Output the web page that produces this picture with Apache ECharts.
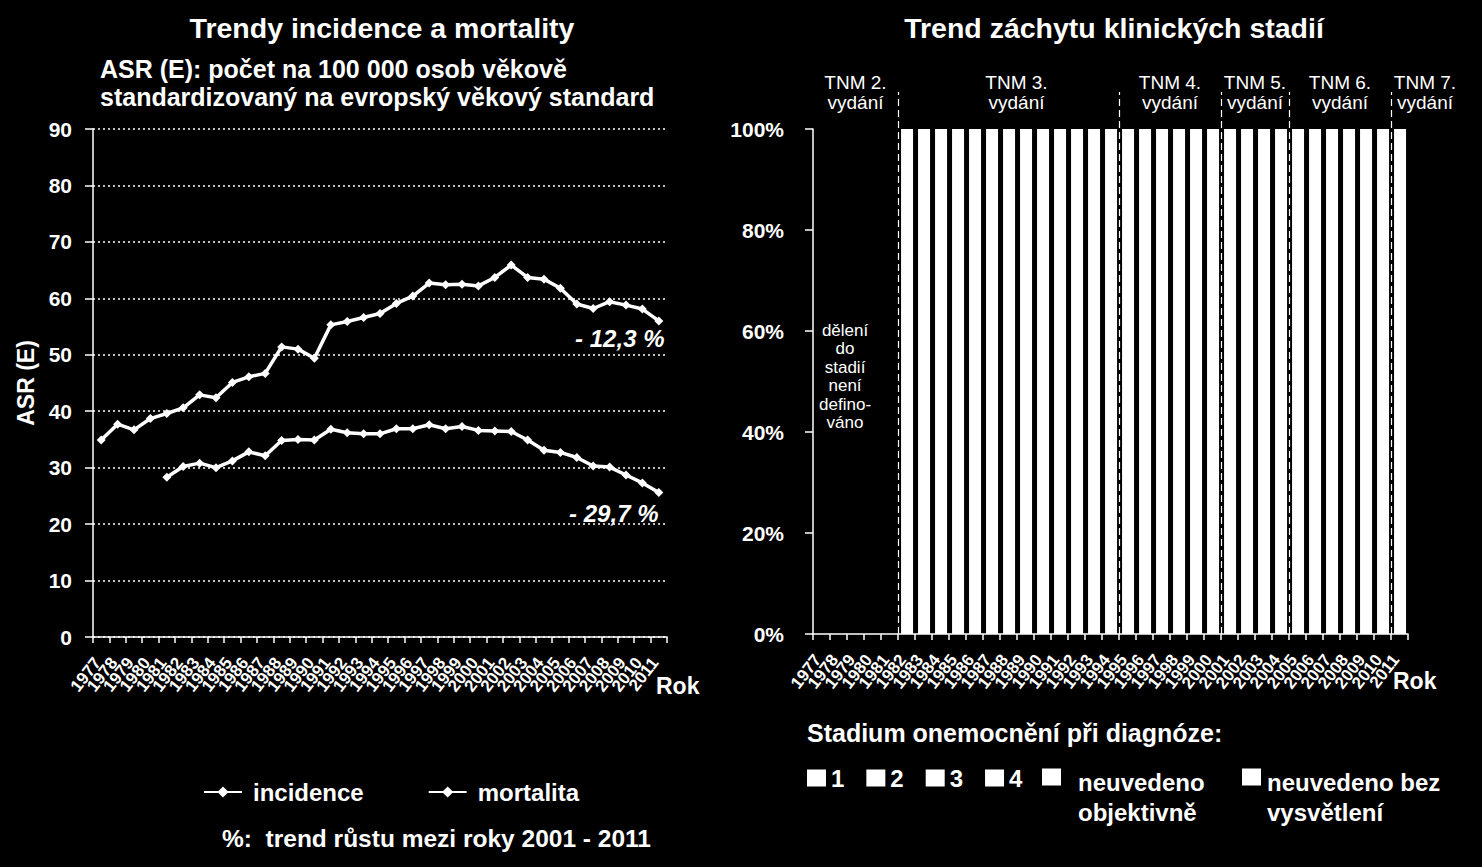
<!DOCTYPE html>
<html>
<head>
<meta charset="utf-8">
<script src="https://cdn.jsdelivr.net/npm/echarts@6/dist/echarts.min.js"></script>
<style>html,body{margin:0;padding:0;background:#000}#c{width:1482px;height:867px}</style>
</head>
<body>
<div id="c"></div>
<script>
// ---- data ----
const years = ['1977','1978','1979','1980','1981','1982','1983','1984','1985','1986','1987','1988','1989','1990','1991','1992','1993','1994','1995','1996','1997','1998','1999','2000','2001','2002','2003','2004','2005','2006','2007','2008','2009','2010','2011'];
const incidence = [34.9,37.7,36.7,38.7,39.6,40.6,42.9,42.4,45.1,46.1,46.7,51.4,51.0,49.4,55.3,55.9,56.6,57.3,59.1,60.4,62.7,62.4,62.5,62.2,63.7,65.9,63.7,63.4,61.8,59.0,58.2,59.4,58.8,58.1,56.0];
const mortality = [null,null,null,null,28.3,30.2,30.8,30.0,31.2,32.8,32.1,34.8,35.0,34.9,36.8,36.2,36.0,36.0,36.9,36.9,37.6,36.9,37.3,36.6,36.5,36.4,34.9,33.1,32.7,31.8,30.3,30.1,28.7,27.3,25.6];
const trendLabels = ['- 12,3 %', '- 29,7 %'];
const asrTicks = [0, 90, 10];          // min, max, step
const shareTicks = [0, 100, 20];       // min, max, step (%)
// share of cases with a recorded stage (all stage segments are white in the picture)
const shareRecorded = [null,null,null,null,null,100,100,100,100,100,100,100,100,100,100,100,100,100,100,100,100,100,100,100,100,100,100,100,100,100,100,100,100,100,100];
const stageNames = ['1','2','3','4','neuvedeno objektivně','neuvedeno bez vysvětlení'];
const tnmEditions = ['TNM 2.','TNM 3.','TNM 4.','TNM 5.','TNM 6.','TNM 7.'];
const tnmFirstYear = ['1977','1982','1995','2001','2005','2011'];
const undefinedNote = 'dělení\ndo\nstadií\nnení\ndefino-\nváno';

// ---- chart ----
const FONT = '"Liberation Sans", Arial, sans-serif';
const W = '#ffffff';
const chart = echarts.init(document.getElementById('c'), null, {renderer: 'svg'});

const tnmStarts = tnmFirstYear.map(y => years.indexOf(y));
const tnmAreas = tnmEditions.map((ed, i) => {
  const s = tnmStarts[i];
  const e = i < tnmStarts.length - 1 ? tnmStarts[i + 1] : s + 4;
  const item = {xAxis: s, name: ed + '\nvydání'};
  if (i === 1) item.label = {offset: [8, -20]};
  return [item, {xAxis: e}];
});
const tnmLines = tnmStarts.slice(1).map(s => ({xAxis: s}));

const stageSeries = stageNames.map(n => ({
  name: n, type: 'bar', xAxisIndex: 1, yAxisIndex: 1, stack: 'stadia',
  data: [], itemStyle: {color: W}
}));

const catAxis = (gi) => ({
  type: 'category', gridIndex: gi, data: years, boundaryGap: true,
  axisLine: {lineStyle: {color: W, width: 1.5}},
  axisTick: {show: true, interval: 0, length: 6, lineStyle: {color: W, width: 1.5}},
  axisLabel: {interval: 0, rotate: 52, color: W, fontSize: 17, fontWeight: 'bold', fontFamily: FONT, margin: 18, padding: [0, 6, 0, 0]},
  splitLine: {show: false}
});

const twoLine = (a, b) => '{s| }\n{t|' + a + '}\n{t|' + b + '}';
const richTwo = {
  s: {lineHeight: 40, fontSize: 10, color: W},
  t: {lineHeight: 30, fontSize: 24, fontWeight: 'bold', color: W, fontFamily: FONT}
};

const option = {
  backgroundColor: '#000',
  animation: false,
  textStyle: {fontFamily: FONT},
  grid: [
    {left: 93, right: 815, top: 129, bottom: 230},
    {left: 813, right: 74, top: 129, bottom: 233},
    {left: 813, right: 23, top: 92, bottom: 233}
  ],
  xAxis: [
    catAxis(0),
    catAxis(1),
    {type: 'value', gridIndex: 2, min: 0, max: 38, show: false}
  ],
  yAxis: [
    {
      type: 'value', gridIndex: 0, min: asrTicks[0], max: asrTicks[1], interval: asrTicks[2],
      name: 'ASR (E)', nameLocation: 'middle', nameGap: 56,
      nameTextStyle: {color: W, fontSize: 23, fontWeight: 'bold', fontFamily: FONT},
      axisLine: {show: true, lineStyle: {color: W, width: 1.5}},
      axisTick: {show: true, length: 8, lineStyle: {color: W, width: 1.5}},
      axisLabel: {color: W, fontSize: 21, fontWeight: 'bold', fontFamily: FONT, margin: 21},
      splitLine: {show: true, lineStyle: {color: W, width: 1.5, type: [2, 3]}}
    },
    {
      type: 'value', gridIndex: 1, min: shareTicks[0], max: shareTicks[1], interval: shareTicks[2],
      axisLine: {show: true, lineStyle: {color: W, width: 1.5}},
      axisTick: {show: true, length: 8, lineStyle: {color: W, width: 1.5}},
      axisLabel: {color: W, fontSize: 21, fontWeight: 'bold', fontFamily: FONT, margin: 29, formatter: '{value}%'},
      splitLine: {show: false}
    },
    {type: 'value', gridIndex: 2, min: 0, max: 1, show: false}
  ],
  legend: [
    {
      data: ['incidence', 'mortalita'], left: 203, top: 780, padding: 0,
      itemWidth: 38, itemHeight: 14, itemGap: 64, selectedMode: false,
      textStyle: {color: W, fontSize: 24, fontWeight: 'bold', fontFamily: FONT, padding: [0, 0, 0, 6]}
    },
    {
      data: stageNames.slice(0, 4), left: 807, top: 766, padding: 0, icon: 'rect',
      itemWidth: 19, itemHeight: 17, itemGap: 22, selectedMode: false,
      textStyle: {color: W, fontSize: 24, fontWeight: 'bold', fontFamily: FONT}
    },
    {
      data: [stageNames[4]], left: 1042, top: 742, padding: 0, icon: 'rect',
      itemWidth: 19, itemHeight: 17, selectedMode: false,
      formatter: () => twoLine('neuvedeno', 'objektivně'),
      textStyle: {color: W, fontSize: 24, fontWeight: 'bold', fontFamily: FONT, padding: [0, 0, 0, 12], rich: richTwo}
    },
    {
      data: [stageNames[5]], left: 1242, top: 742, padding: 0, icon: 'rect',
      itemWidth: 19, itemHeight: 17, selectedMode: false,
      formatter: () => twoLine('neuvedeno bez', 'vysvětlení'),
      textStyle: {color: W, fontSize: 24, fontWeight: 'bold', fontFamily: FONT, padding: [0, 0, 0, 1], rich: richTwo}
    }
  ],
  graphic: [
    {type: 'text', x: 382, y: 28, style: {text: 'Trendy incidence a mortality', fill: W, font: 'bold 28.5px ' + FONT, textAlign: 'center', textVerticalAlign: 'middle'}},
    {type: 'text', x: 100, y: 69, style: {text: 'ASR (E): počet na 100 000 osob věkově', fill: W, font: 'bold 25px ' + FONT, textAlign: 'left', textVerticalAlign: 'middle'}},
    {type: 'text', x: 100, y: 97, style: {text: 'standardizovaný na evropský věkový standard', fill: W, font: 'bold 25px ' + FONT, textAlign: 'left', textVerticalAlign: 'middle'}},
    {type: 'text', x: 1114, y: 28, style: {text: 'Trend záchytu klinických stadií', fill: W, font: 'bold 28.5px ' + FONT, textAlign: 'center', textVerticalAlign: 'middle'}},
    {type: 'text', x: 656, y: 686, style: {text: 'Rok', fill: W, font: 'bold 23px ' + FONT, textAlign: 'left', textVerticalAlign: 'middle'}},
    {type: 'text', x: 1393, y: 681, style: {text: 'Rok', fill: W, font: 'bold 23px ' + FONT, textAlign: 'left', textVerticalAlign: 'middle'}},
    {type: 'text', x: 222, y: 838, style: {text: '%:  trend růstu mezi roky 2001 - 2011', fill: W, font: 'bold 24.5px ' + FONT, textAlign: 'left', textVerticalAlign: 'middle'}},
    {type: 'text', x: 807, y: 733, style: {text: 'Stadium onemocnění při diagnóze:', fill: W, font: 'bold 25px ' + FONT, textAlign: 'left', textVerticalAlign: 'middle'}}
  ],
  series: [
    {
      name: 'incidence', type: 'line', xAxisIndex: 0, yAxisIndex: 0, data: incidence,
      color: W, lineStyle: {color: W, width: 3.5}, itemStyle: {color: W},
      symbol: 'diamond', symbolSize: 9, showAllSymbol: true,
      markPoint: {
        symbol: 'circle', symbolSize: 1, itemStyle: {color: 'transparent'},
        data: [{coord: [years[34], incidence[34]], value: trendLabels[0]}],
        label: {show: true, position: 'inside', offset: [-39, 18], formatter: trendLabels[0], color: W, fontSize: 24, fontWeight: 'bold', fontStyle: 'italic', fontFamily: FONT}
      }
    },
    {
      name: 'mortalita', type: 'line', xAxisIndex: 0, yAxisIndex: 0, data: mortality,
      color: W, lineStyle: {color: W, width: 3.5}, itemStyle: {color: W},
      symbol: 'diamond', symbolSize: 9, showAllSymbol: true,
      markPoint: {
        symbol: 'circle', symbolSize: 1, itemStyle: {color: 'transparent'},
        data: [{coord: [years[34], mortality[34]], value: trendLabels[1]}],
        label: {show: true, position: 'inside', offset: [-45, 21], formatter: trendLabels[1], color: W, fontSize: 24, fontWeight: 'bold', fontStyle: 'italic', fontFamily: FONT}
      }
    },
    ...stageSeries,
    {
      name: 'zachyceno', type: 'bar', xAxisIndex: 1, yAxisIndex: 1, data: shareRecorded,
      barWidth: 12, itemStyle: {color: W},
      markPoint: {
        symbol: 'circle', symbolSize: 1, itemStyle: {color: 'transparent'},
        data: [{coord: [years[2], 50]}],
        label: {show: true, position: 'inside', offset: [-11, -5], formatter: undefinedNote, color: W, fontSize: 17, lineHeight: 18.5, align: 'center', fontFamily: FONT}
      }
    },
    {
      name: 'TNM', type: 'line', xAxisIndex: 2, yAxisIndex: 2, data: [], silent: true,
      markLine: {
        silent: true, symbol: ['none', 'none'], label: {show: false},
        lineStyle: {color: W, type: [7, 4], width: 1.2},
        data: tnmLines
      },
      markArea: {
        silent: true, itemStyle: {color: 'rgba(0,0,0,0)'},
        label: {show: true, position: 'insideTop', distance: 0, offset: [0, -20], color: W, fontSize: 19, lineHeight: 20, fontFamily: FONT, align: 'center'},
        data: tnmAreas
      }
    }
  ]
};
chart.setOption(option);
</script>
</body>
</html>
